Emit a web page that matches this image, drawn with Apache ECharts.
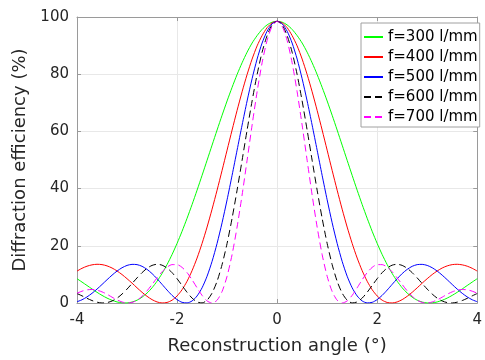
<!DOCTYPE html>
<html><head><meta charset="utf-8">
<script src="https://cdn.jsdelivr.net/npm/echarts@6/dist/echarts.min.js"></script>
<style>html,body{margin:0;padding:0;background:#fff}#c{width:485px;height:360px}</style>
</head><body><div id="c"></div>
<script>
const angles = [-4,-3.9,-3.8,-3.7,-3.6,-3.5,-3.4,-3.3,-3.2,-3.1,-3,-2.9,-2.8,-2.7,-2.6,-2.5,-2.4,-2.3,-2.2,-2.1,-2,-1.9,-1.8,-1.7,-1.6,-1.5,-1.4,-1.3,-1.2,-1.1,-1,-0.9,-0.8,-0.7,-0.6,-0.5,-0.4,-0.3,-0.2,-0.1,0,0.1,0.2,0.3,0.4,0.5,0.6,0.7,0.8,0.9,1,1.1,1.2,1.3,1.4,1.5,1.6,1.7,1.8,1.9,2,2.1,2.2,2.3,2.4,2.5,2.6,2.7,2.8,2.9,3,3.1,3.2,3.3,3.4,3.5,3.6,3.7,3.8,3.9,4];
const f300 = [8.5,7.32,6.12,4.91,3.74,2.67,1.72,0.94,0.37,0.05,0.03,0.33,0.98,2.03,3.47,5.32,7.61,10.31,13.43,16.94,20.84,25.07,29.63,34.43,39.45,44.63,49.9,55.2,60.48,65.65,70.65,75.4,79.9,84.0,87.7,90.9,93.5,95.67,97.24,98.19,98.5,98.19,97.24,95.67,93.5,90.9,87.7,84.0,79.9,75.4,70.65,65.65,60.48,55.2,49.9,44.63,39.45,34.43,29.63,25.07,20.84,16.94,13.43,10.31,7.61,5.32,3.47,2.03,0.98,0.33,0.03,0.05,0.37,0.94,1.72,2.67,3.74,4.91,6.12,7.32,8.5];
const f400 = [11.16,12.13,12.87,13.34,13.54,13.42,12.98,12.24,11.21,9.95,8.5,6.95,5.31,3.74,2.34,1.18,0.37,0.01,0.19,0.98,2.46,4.65,7.61,11.31,15.72,20.84,26.56,32.81,39.45,46.37,53.44,60.48,67.34,73.86,79.9,85.3,89.9,93.5,96.28,97.94,98.5,97.94,96.28,93.5,89.9,85.3,79.9,73.86,67.34,60.48,53.44,46.37,39.45,32.81,26.56,20.84,15.72,11.31,7.61,4.65,2.46,0.98,0.19,0.01,0.37,1.18,2.34,3.74,5.31,6.95,8.5,9.95,11.21,12.24,12.98,13.42,13.54,13.34,12.87,12.13,11.16];
const f500 = [0.45,1.13,2.13,3.39,4.86,6.47,8.13,9.73,11.16,12.33,13.14,13.51,13.42,12.83,11.76,10.29,8.5,6.52,4.52,2.67,1.18,0.23,0.03,0.72,2.46,5.32,9.36,14.56,20.84,28.07,36.08,44.63,53.44,62.21,70.65,78.43,85.3,90.9,95.05,97.63,98.5,97.63,95.05,90.9,85.3,78.43,70.65,62.21,53.44,44.63,36.08,28.07,20.84,14.56,9.36,5.32,2.46,0.72,0.03,0.23,1.18,2.67,4.52,6.52,8.5,10.29,11.76,12.83,13.42,13.51,13.14,12.33,11.16,9.73,8.13,6.47,4.86,3.39,2.13,1.13,0.45];
const f600 = [3.32,2.5,1.63,0.86,0.29,0.01,0.14,0.69,1.69,3.12,4.86,6.81,8.78,10.61,12.13,13.14,13.54,13.23,12.24,10.62,8.5,6.12,3.74,1.72,0.37,0.03,0.98,3.47,7.61,13.43,20.84,29.63,39.45,49.9,60.48,70.65,79.9,87.7,93.5,97.24,98.5,97.24,93.5,87.7,79.9,70.65,60.48,49.9,39.45,29.63,20.84,13.43,7.61,3.47,0.98,0.03,0.37,1.72,3.74,6.12,8.5,10.62,12.24,13.23,13.54,13.14,12.13,10.61,8.78,6.81,4.86,3.12,1.69,0.69,0.14,0.01,0.29,0.86,1.63,2.5,3.32];
const f700 = [3.42,4.13,4.59,4.72,4.49,3.9,3.06,2.04,1.08,0.36,0.01,0.19,0.97,2.36,4.25,6.47,8.78,10.9,12.52,13.42,13.42,12.45,10.62,8.12,5.31,2.67,0.72,0.0,0.98,4.03,9.36,16.94,26.56,37.76,49.9,62.21,73.86,84.0,91.83,96.77,98.5,96.77,91.83,84.0,73.86,62.21,49.9,37.76,26.56,16.94,9.36,4.03,0.98,0.0,0.72,2.67,5.31,8.12,10.62,12.45,13.42,13.42,12.52,10.9,8.78,6.47,4.25,2.36,0.97,0.19,0.01,0.36,1.08,2.04,3.06,3.9,4.49,4.72,4.59,4.13,3.42];
const seriesNames = ['f=300 l/mm','f=400 l/mm','f=500 l/mm','f=600 l/mm','f=700 l/mm'];
const xTickValues = [-4,-2,0,2,4];
const xTickLabels = ['-4','-2','0','2','4'];
const yTickValues = [0,20,40,60,80,100];
const yTickLabels = ['0','20','40','60','80','100'];
const xTitle = 'Reconstruction angle (°)';
const yTitle = 'Diffraction efficiency (%)';

const FONT = 'DejaVu Sans';
const AX = '#9a9a9a';
const TXT = '#262626';
const styles = [
  {color:'#00ff00', type:'solid'},
  {color:'#ff0000', type:'solid'},
  {color:'#0000ff', type:'solid'},
  {color:'#000000', type:[7,4]},
  {color:'#ff00ff', type:[7,4]}
];
const values = [f300, f400, f500, f600, f700];
const chart = echarts.init(document.getElementById('c'), null, {renderer:'canvas'});
const lbl = (vals, labs) => v => { const i = vals.indexOf(v); return i < 0 ? '' : labs[i]; };
const baseAxis = {
  type:'value',
  axisLine:{show:true,onZero:false,lineStyle:{color:AX,width:1}},
  axisTick:{show:true,inside:true,length:4,lineStyle:{color:AX}},
  splitLine:{show:false}
};
chart.setOption({
  animation:false,
  backgroundColor:'#fff',
  grid:{left:77,right:3,top:17,bottom:57,containLabel:false},
  legend:{
    orient:'vertical', left:361, top:23,
    padding:[4,2,0,2], itemGap:0, itemWidth:19, itemHeight:20,
    backgroundColor:'#fff', borderColor:'#a0a0a0', borderWidth:1, borderRadius:0,
    itemStyle:{color:'rgba(0,0,0,0)', borderColor:'rgba(0,0,0,0)', borderWidth:0, opacity:0},
    textStyle:{fontFamily:FONT,fontSize:15,color:'#000',lineHeight:20},
    data:seriesNames
  },
  xAxis:[
    Object.assign({}, baseAxis, {
      position:'bottom', min:-4, max:4, interval:2,
      splitLine:{show:true,lineStyle:{color:'#e8e8e8',width:1}},
      axisLabel:{fontFamily:FONT,fontSize:15,color:TXT,margin:10,formatter:lbl(xTickValues,xTickLabels)},
      name:xTitle, nameLocation:'middle', nameGap:34,
      nameTextStyle:{fontFamily:FONT,fontSize:18,color:TXT}
    }),
    Object.assign({}, baseAxis, {position:'top', min:-4, max:4, interval:2, axisLabel:{show:false}})
  ],
  yAxis:[
    Object.assign({}, baseAxis, {
      position:'left', min:0, max:100, interval:20,
      splitLine:{show:true,lineStyle:{color:'#e8e8e8',width:1}},
      axisLabel:{fontFamily:FONT,fontSize:15,color:TXT,margin:8,formatter:lbl(yTickValues,yTickLabels)},
      name:yTitle, nameLocation:'middle', nameGap:36, nameRotate:90,
      nameTextStyle:{fontFamily:FONT,fontSize:18,color:TXT}
    }),
    Object.assign({}, baseAxis, {position:'right', min:0, max:100, interval:20, axisLabel:{show:false}})
  ],
  series: values.map((ys, k) => ({
    name: seriesNames[k],
    type:'line',
    xAxisIndex:0, yAxisIndex:0,
    showSymbol:false, symbol:'none',
    smooth:0.25,
    data: angles.map((a, i) => [a, ys[i]]),
    lineStyle:{color:styles[k].color, width:1, type:styles[k].type},
    itemStyle:{color:styles[k].color},
    emphasis:{disabled:true}
  }))
});
</script></body></html>
